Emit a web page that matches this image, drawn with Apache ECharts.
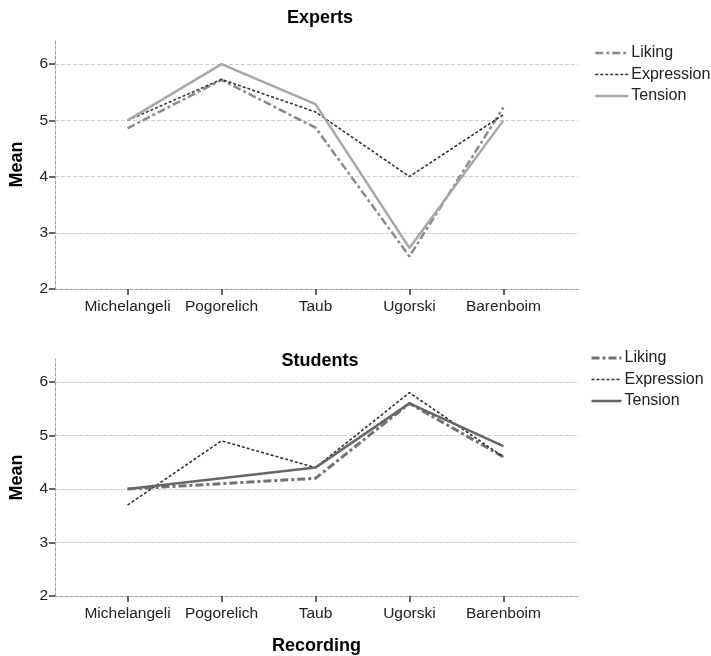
<!DOCTYPE html>
<html>
<head>
<meta charset="utf-8">
<script src="https://cdn.jsdelivr.net/npm/echarts@6/dist/echarts.min.js"></script>
<style>
html,body{margin:0;padding:0;background:#fff;}
#chart{width:711px;height:656px;}
</style>
</head>
<body>
<div id="chart"></div>
<script>
const categories = ['Michelangeli', 'Pogorelich', 'Taub', 'Ugorski', 'Barenboim'];
const seriesNames = ['Liking', 'Expression', 'Tension'];
const yTicks = [2, 3, 4, 5, 6];

const expertsLiking = [4.86, 5.72, 4.87, 2.58, 5.23];
const expertsExpression = [5.0, 5.73, 5.15, 4.0, 5.1];
const expertsTension = [5.0, 6.0, 5.29, 2.73, 5.0];

const studentsLiking = [4.0, 4.1, 4.2, 5.6, 4.6];
const studentsExpression = [3.7, 4.9, 4.4, 5.8, 4.6];
const studentsTension = [4.0, 4.2, 4.4, 5.6, 4.8];

const FONT = '"Liberation Sans", Arial, sans-serif';

const styles = {
  experts: {
    Liking: {color: '#8a8a8a', width: 2.5, type: [8, 3, 3, 3]},
    Expression: {color: '#333333', width: 1.6, type: [3, 2]},
    Tension: {color: '#a8a8a8', width: 2.5, type: 'solid'}
  },
  students: {
    Liking: {color: '#727272', width: 3, type: [8, 3, 3, 3]},
    Expression: {color: '#333333', width: 1.6, type: [3, 2]},
    Tension: {color: '#666666', width: 2.5, type: 'solid'}
  }
};

function pts(arr) { return arr.map((v, i) => [i, v]); }

const catIdx = categories.map((c, i) => i);

function xAxisDef(gridIndex) {
  return {
    type: 'value', gridIndex: gridIndex,
    min: -0.772, max: 4.794,
    axisLine: {show: true, onZero: false, lineStyle: {color: '#9a9a9a', type: [3, 2], width: 1}},
    axisTick: {show: true, customValues: catIdx, length: 6, lineStyle: {color: '#333', width: 1.5}},
    axisLabel: {customValues: catIdx, formatter: v => categories[Math.round(v)] || '',
      color: '#222', fontSize: 15.5, fontFamily: FONT, margin: 10},
    splitLine: {show: false},
    name: gridIndex === 1 ? 'Recording' : '',
    nameLocation: 'middle', nameGap: 41,
    nameTextStyle: {fontSize: 18, fontWeight: 'bold', color: '#000', fontFamily: FONT}
  };
}
function yAxisDef(gridIndex) {
  return {
    type: 'value', gridIndex: gridIndex,
    min: 2, max: 6.43, interval: 1,
    axisLine: {show: true, onZero: false, lineStyle: {color: '#9a9a9a', type: [3, 2], width: 1}},
    axisTick: {show: true, customValues: yTicks, length: 6, lineStyle: {color: '#333', width: 1.5}},
    axisLabel: {customValues: yTicks, color: '#222', fontSize: 15.5, fontFamily: FONT, margin: 7},
    splitLine: {show: true, showMinLine: false, lineStyle: {color: '#cccccc', type: [4, 2], width: 1}},
    name: 'Mean', nameLocation: 'middle', nameGap: 29, nameRotate: 90,
    nameTextStyle: {fontSize: 18, fontWeight: 'bold', color: '#000', fontFamily: FONT}
  };
}

function mkSeries(name, data, st, idx) {
  return {
    type: 'line', name: name, xAxisIndex: idx, yAxisIndex: idx,
    data: pts(data), symbol: 'none', silent: true, animation: false,
    lineStyle: {color: st.color, width: st.width, type: st.type},
    itemStyle: {color: st.color}
  };
}

function legendDef(key, left, top, itemWidth) {
  return {
    orient: 'vertical', left: left, top: top, padding: 0,
    itemWidth: itemWidth, itemHeight: 14, itemGap: 5.5,
    selectedMode: false,
    textStyle: {fontSize: 16, color: '#222', fontFamily: FONT, padding: [0, 0, 0, -2]},
    itemStyle: {opacity: 0},
    data: seriesNames.map(n => ({
      name: n,
      lineStyle: {color: styles[key][n].color, width: styles[key][n].width, type: styles[key][n].type},
      itemStyle: {opacity: 0}
    }))
  };
}

const option = {
  animation: false,
  backgroundColor: '#fff',
  title: [
    {text: 'Experts', left: 315, top: 4, textAlign: 'center',
      textStyle: {fontSize: 18, fontWeight: 'bold', color: '#000', fontFamily: FONT}},
    {text: 'Students', left: 315, top: 347, textAlign: 'center',
      textStyle: {fontSize: 18, fontWeight: 'bold', color: '#000', fontFamily: FONT}}
  ],
  legend: [legendDef('experts', 594, 45, 33), legendDef('students', 590, 350, 30)],
  grid: [
    {left: 52, top: 40, width: 526, height: 249},
    {left: 52, top: 359, width: 526, height: 238}
  ],
  xAxis: [xAxisDef(0), xAxisDef(1)],
  yAxis: [yAxisDef(0), yAxisDef(1)],
  series: [
    mkSeries('Liking', expertsLiking, styles.experts.Liking, 0),
    mkSeries('Expression', expertsExpression, styles.experts.Expression, 0),
    mkSeries('Tension', expertsTension, styles.experts.Tension, 0),
    mkSeries('Liking', studentsLiking, styles.students.Liking, 1),
    mkSeries('Expression', studentsExpression, styles.students.Expression, 1),
    mkSeries('Tension', studentsTension, styles.students.Tension, 1)
  ]
};

const chart = echarts.init(document.getElementById('chart'), null, {renderer: 'canvas'});
chart.setOption(option);
</script>
</body>
</html>
